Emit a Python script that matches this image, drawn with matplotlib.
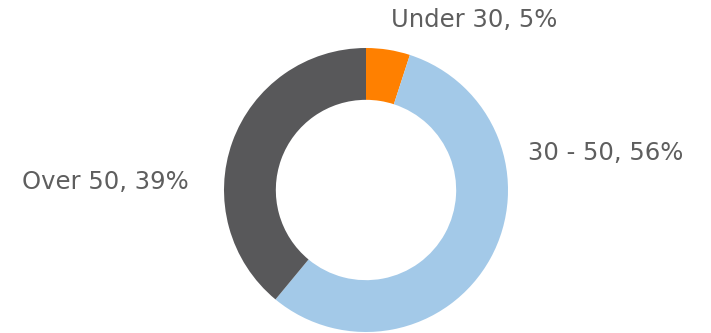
import matplotlib.pyplot as plt

# Age groups and shares (%)
labels = ['Under 30', '30 - 50', 'Over 50']
values = [5, 56, 39]
colors = ['#FF8000', '#A3C9E8', '#58585A']

plt.rcParams['font.family'] = ['DejaVu Sans']

fig = plt.figure(figsize=(7.11, 3.33), dpi=100)
ax = fig.add_axes([224 / 711, 1 / 333, 284 / 711, 284 / 333])
ax.pie(values, colors=colors, startangle=90, counterclock=False, radius=1,
       wedgeprops=dict(width=0.365, edgecolor='none'))
ax.set_xlim(-1, 1)
ax.set_ylim(-1, 1)
ax.set_aspect('equal')
ax.axis('off')

# Data labels placed beside the ring
label_pos = [(391, 20), (528, 153), (22, 182)]
for lab, val, (px, py) in zip(labels, values, label_pos):
    fig.text(px / 711, 1 - py / 333, f'{lab}, {val}%', ha='left', va='center',
             fontsize=17.5, color='#5E5E5E')

fig.savefig('out.png', dpi=100)
